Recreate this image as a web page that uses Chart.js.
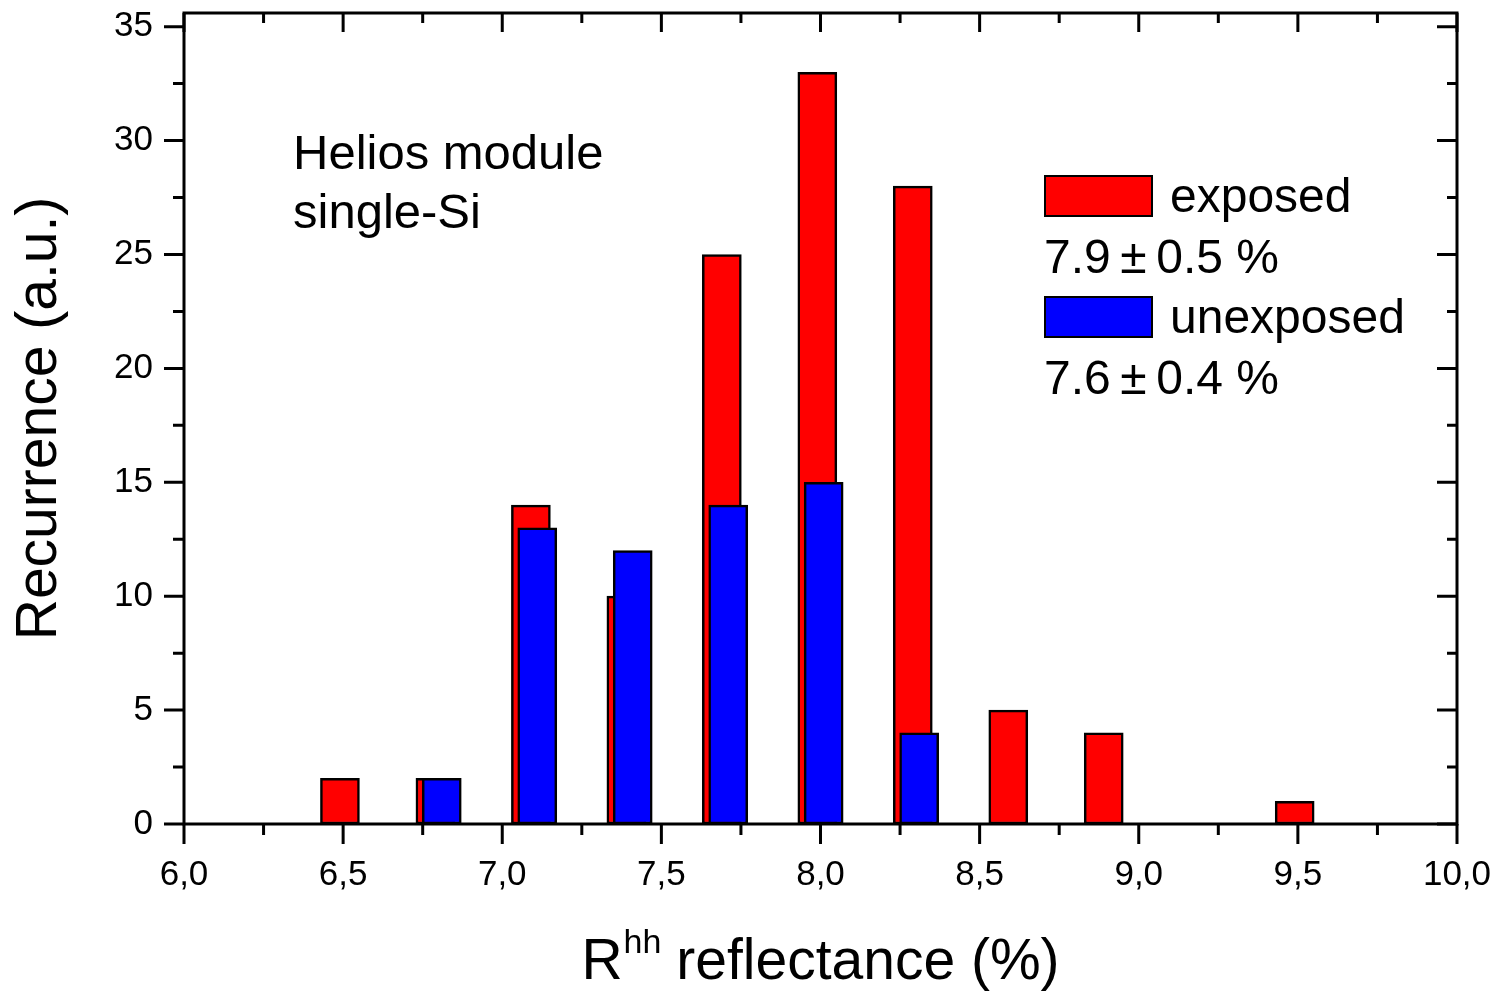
<!DOCTYPE html>
<html>
<head>
<meta charset="utf-8">
<title>Helios module reflectance histogram</title>
<script src="https://cdn.jsdelivr.net/npm/chart.js@4.4.0/dist/chart.umd.min.js"></script>
<style>
    html, body { margin: 0; padding: 0; background: #ffffff; }
    canvas { display: block; }
</style>
</head>
<body>
<canvas id="histogram" width="1497" height="993"></canvas>
<script>
(function () {
    "use strict";

    // bin positions (R^hh, %) and counts
    const exposedX = [6.49, 6.79, 7.09, 7.39, 7.69, 7.99, 8.29, 8.59, 8.89, 9.49];
    const exposedCounts = [2, 2, 14, 10, 25, 33, 28, 5, 4, 1];
    const unexposedX = [6.81, 7.11, 7.41, 7.71, 8.01, 8.31];
    const unexposedCounts = [2, 13, 12, 14, 15, 4];

    const xMin = 6, xMax = 10, xStep = 0.5;
    const yMin = 0, yMax = 35.6, yStep = 5;

    const legendLabels = ["exposed", "unexposed"];
    const legendStats = ["7.9\u2009\u00B1\u20090.5 %", "7.6\u2009\u00B1\u20090.4 %"];
    const noteLines = ["Helios module", "single-Si"];

    const FONT = "'Liberation Sans', Arial, sans-serif";
    const RED = "#ff0000";
    const BLUE = "#0000ff";

    window.addEventListener("load", init);

    /**
     * Build the chart once the page is ready
     */
    function init() {
        new Chart(document.getElementById("histogram"), {
            type: "bar",
            data: {
                datasets: [{
                    label: legendLabels[1],
                    data: toPoints(unexposedX, unexposedCounts),
                    backgroundColor: BLUE,
                    order: 0
                },
                {
                    label: legendLabels[0],
                    data: toPoints(exposedX, exposedCounts),
                    backgroundColor: RED,
                    order: 1
                }]
            },
            options: {
                responsive: false,
                animation: false,
                events: [],
                layout: { padding: { top: 13, right: 40, left: 0, bottom: 0 } },
                datasets: {
                    bar: {
                        grouped: false,
                        barThickness: 39,
                        borderWidth: 2.5,
                        borderColor: "#000000",
                        borderSkipped: false
                    }
                },
                plugins: {
                    legend: { display: false },
                    tooltip: { enabled: false }
                },
                scales: {
                    x: {
                        type: "linear",
                        min: xMin,
                        max: xMax,
                        offset: false,
                        grid: { display: false, drawTicks: false },
                        border: { display: false },
                        ticks: {
                            stepSize: xStep,
                            padding: 30,
                            color: "#000000",
                            font: { family: FONT, size: 35 },
                            maxRotation: 0,
                            autoSkip: false,
                            callback: v => v.toFixed(1).replace(".", ",")
                        },
                        afterFit: s => {
                            s.height = 169;
                            s.paddingLeft = 0;
                            s.paddingRight = 0;
                        }
                    },
                    y: {
                        min: yMin,
                        max: yMax,
                        grid: { display: false, drawTicks: false },
                        border: { display: false },
                        ticks: {
                            stepSize: yStep,
                            includeBounds: false,
                            padding: 31,
                            color: "#000000",
                            font: { family: FONT, size: 35 }
                        },
                        title: {
                            display: true,
                            text: "Recurrence (a.u.)",
                            color: "#000000",
                            font: { family: FONT, size: 57 },
                            padding: { top: 6, bottom: 0 }
                        },
                        afterFit: s => {
                            s.width = 184;
                            s.paddingTop = 0;
                            s.paddingBottom = 0;
                        }
                    }
                }
            },
            plugins: [frameAndTicks, annotations]
        });
    }

    /**
     * Pair up x positions and counts into {x, y} points
     */
    function toPoints(xs, ys) {
        return xs.map((x, i) => ({ x: x, y: ys[i] }));
    }

    /**
     * Box frame with major/minor ticks: outward on left and bottom, inward on top and right
     */
    const frameAndTicks = {
        id: "frameAndTicks",
        afterDatasetsDraw(chart) {
            const ctx = chart.ctx;
            const a = chart.chartArea;
            const xs = chart.scales.x;
            const ys = chart.scales.y;
            const major = 20, minor = 11;

            ctx.save();
            ctx.strokeStyle = "#000000";
            ctx.lineWidth = 3;
            ctx.lineCap = "butt";
            ctx.strokeRect(a.left, a.top, a.right - a.left, a.bottom - a.top);

            ctx.beginPath();
            // x ticks
            for (let v = xMin; v <= xMax + 1e-9; v += xStep / 2) {
                const px = xs.getPixelForValue(v);
                const isMajor = Math.abs(v / xStep - Math.round(v / xStep)) < 1e-6;
                const len = isMajor ? major : minor;
                ctx.moveTo(px, a.bottom);
                ctx.lineTo(px, a.bottom + len);
                ctx.moveTo(px, a.top);
                ctx.lineTo(px, a.top + (isMajor ? 19 : 10));
            }
            // y ticks
            for (let v = yMin; v <= yMax + 1e-9; v += yStep / 2) {
                const py = ys.getPixelForValue(v);
                const isMajor = Math.abs(v / yStep - Math.round(v / yStep)) < 1e-6;
                const len = isMajor ? major : minor;
                ctx.moveTo(a.left - len, py);
                ctx.lineTo(a.left, py);
                ctx.moveTo(a.right, py);
                ctx.lineTo(a.right - (isMajor ? 20 : 10), py);
            }
            ctx.stroke();
            ctx.restore();
        }
    };

    /**
     * Note text, legend boxes and the x axis title (which needs a superscript)
     */
    const annotations = {
        id: "annotations",
        afterDraw(chart) {
            const ctx = chart.ctx;
            const a = chart.chartArea;
            ctx.save();
            ctx.fillStyle = "#000000";
            ctx.textBaseline = "alphabetic";
            ctx.textAlign = "left";

            // sample description
            ctx.font = "49px " + FONT;
            ctx.fillText(noteLines[0], a.left + 109, 169);
            ctx.fillText(noteLines[1], a.left + 109, 228);

            // legend
            const colors = [RED, BLUE];
            const boxX = 1044;
            const rows = [175, 296];
            ctx.lineWidth = 2;
            ctx.strokeStyle = "#000000";
            ctx.font = "48px " + FONT;
            for (let i = 0; i < 2; i++) {
                ctx.fillStyle = colors[i];
                ctx.fillRect(boxX, rows[i], 109, 42);
                ctx.strokeRect(boxX + 1, rows[i] + 1, 107, 40);
                ctx.fillStyle = "#000000";
                ctx.fillText(legendLabels[i], 1170, rows[i] + 37);
                ctx.fillText(legendStats[i], boxX, rows[i] + 98);
            }

            // x axis title: R^hh reflectance (%)
            const big = "57px " + FONT;
            const small = "34px " + FONT;
            const rest = " reflectance (%)";
            ctx.font = big;
            const wR = ctx.measureText("R").width;
            const wRest = ctx.measureText(rest).width;
            ctx.font = small;
            const wSup = ctx.measureText("hh").width;
            const total = wR + wSup + wRest;
            let x = (a.left + a.right) / 2 - total / 2;
            const base = 979;
            ctx.font = big;
            ctx.fillText("R", x, base);
            x += wR;
            ctx.font = small;
            ctx.fillText("hh", x + 1, base - 26);
            x += wSup;
            ctx.font = big;
            ctx.fillText(rest, x, base);
            ctx.restore();
        }
    };
})();
</script>
</body>
</html>
